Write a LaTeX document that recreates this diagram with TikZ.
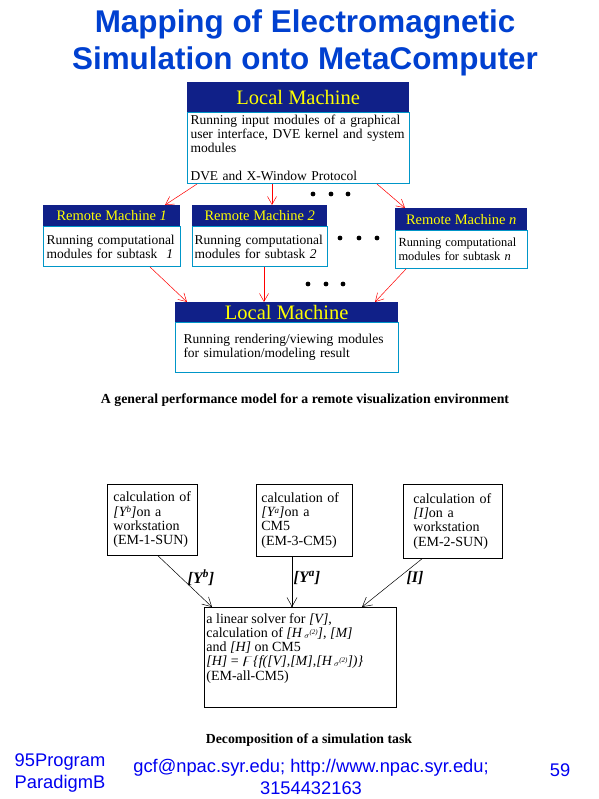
\documentclass[tikz,border=0pt]{standalone}
\usepackage{amssymb}
\usepackage{fontspec}
\setmainfont{Liberation Serif}
\setsansfont{Liberation Sans}
\usetikzlibrary{arrows.meta}
\definecolor{navy}{RGB}{16,32,136}
\definecolor{tealb}{RGB}{0,150,200}
\definecolor{titleblue}{RGB}{0,64,208}
\definecolor{footblue}{RGB}{0,0,240}
\definecolor{hdryellow}{RGB}{255,255,0}
\tikzset{
  hdr/.style={fill=navy, text=hdryellow, anchor=north west, inner sep=0pt},
  bigh/.style={hdr, font=\fontsize{20.5}{22}\selectfont},
  smallh/.style={hdr, font=\fontsize{14.5}{16}\selectfont},
  tbody/.style={draw=tealb, line width=1pt, anchor=north west, align=left,
    inner xsep=3pt, inner ysep=0pt, font=\fontsize{13.5}{14}\selectfont},
  bbox/.style={draw=black, line width=0.8pt, anchor=north west, align=left,
    inner xsep=6pt, inner ysep=0pt, font=\fontsize{14}{14.3}\selectfont},
  redarr/.style={draw=red, line width=0.5pt, -{Straight Barb[length=8pt,width=9pt]}},
  blkarr/.style={draw=black, line width=0.5pt, -{Straight Barb[length=9pt,width=10pt]}},
  lbl/.style={font=\fontsize{16}{16}\selectfont\bfseries\itshape},
  captext/.style={font=\fontsize{13.8}{14}\selectfont\bfseries},
  foot/.style={text=footblue, font=\sffamily\fontsize{18.3}{22}\selectfont, align=center},
  dotc/.style={fill=black}
}
\newcommand{\supsm}[1]{\raisebox{3.2pt}{\fontsize{9}{9}\selectfont #1}}
\newcommand{\hsig}{\,\raisebox{-1pt}{\fontsize{8}{8}\selectfont$\sigma$}\raisebox{3pt}{\fontsize{7}{7}\selectfont(2)}}
\begin{document}
\begin{tikzpicture}[x=1pt,y=-1pt]
\useasboundingbox (0,0) rectangle (598,799);
% title
\node[text=titleblue, font=\sffamily\bfseries\fontsize{31.4}{37}\selectfont, align=center] (title) at (305,43)
  {Mapping of Electromagnetic\\Simulation onto MetaComputer};

% top local machine
\node[tbody, minimum height=71pt, text width=216pt] (lm1b) at (187,112)
  {Running input modules of a graphical\\user interface, DVE kernel and system\\modules\\[14pt]DVE and X-Window Protocol};
\node[bigh, minimum width=222pt, minimum height=30pt] (lm1h) at (187,82) {Local Machine};

% remote machines
\node[tbody, minimum height=40pt, text width=131pt, inner xsep=3pt] (rm1b) at (43,226)
  {Running computational\\modules for subtask \ \textit{1}};
\node[smallh, minimum width=137pt, minimum height=21pt] (rm1h) at (43,205) {Remote Machine \textit{1}};

\node[tbody, minimum height=40pt, text width=131pt, inner xsep=2pt] (rm2b) at (192,226)
  {Running computational\\modules for subtask \textit{2}};
\node[smallh, minimum width=135pt, minimum height=21pt] (rm2h) at (192,205) {Remote Machine \textit{2}};

\node[tbody, minimum height=38pt, text width=126pt, font=\fontsize{12.4}{13.5}\selectfont] (rmnb) at (395,230)
  {Running computational\\modules for subtask \textit{n}};
\node[smallh, minimum width=132pt, minimum height=22pt] (rmnh) at (395,208) {Remote Machine \textit{n}};

% bottom local machine
\node[tbody, minimum height=50pt, text width=207pt, inner xsep=8pt] (lm2b) at (175,322)
  {Running rendering/viewing modules\\for simulation/modeling result};
\node[bigh, minimum width=223pt, minimum height=20pt] (lm2h) at (175,302) {Local Machine};

% dots
\foreach \x in {313,331,348} \fill[dotc] (\x,194) circle (2.4pt);
\foreach \x in {340,359,377} \fill[dotc] (\x,238) circle (2.4pt);
\foreach \x in {308,326,343} \fill[dotc] (\x,284) circle (2.4pt);

% red arrows
\draw[redarr] ([xshift=10pt]lm1b.south west) -- ([xshift=122pt]rm1h.north west);
\draw[redarr] ([xshift=85pt]lm1b.south west) -- ([xshift=80pt]rm2h.north west);
\draw[redarr] ([xshift=190pt]lm1b.south west) -- ([xshift=10pt]rmnh.north west);
\draw[redarr] ([xshift=107pt]rm1b.south west) -- ([xshift=12pt]lm2h.north west);
\draw[redarr] ([xshift=72pt]rm2b.south west) -- ([xshift=89pt]lm2h.north west);
\draw[redarr] ([xshift=11pt]rmnb.south west) -- ([xshift=200pt]lm2h.north west);

\node[captext] (cap1) at (305,400) {A general performance model for a remote visualization environment};

% decomposition
\node[bbox, minimum height=71pt, text width=78pt] (b1) at (107,484)
  {calculation of\\\textit{[Y\supsm{b}]}on a\\workstation\\(EM-1-SUN)};
\node[bbox, minimum height=72pt, text width=86pt, inner xsep=5pt] (b2) at (256,484)
  {calculation of\\\textit{[Y\supsm{a}]}on a\\CM5\\(EM-3-CM5)};
\node[bbox, minimum height=74pt, text width=79pt, inner xsep=10pt] (b3) at (403,484)
  {calculation of\\\textit{[I]}on a\\workstation\\(EM-2-SUN)};
\node[bbox, inner xsep=2pt, inner ysep=6pt] (bb) at (204,607)
  {\parbox[c][88pt][t]{188pt}{\fontsize{14}{14.2}\selectfont
   a linear solver for \textit{[V]},\\
   calculation of \textit{[H\hsig]}, \textit{[M]}\\
   and \textit{[H]} on CM5\\
   \smash{\textit{[H]} = $\digamma$\textit{\{f([V],[M],[H\hsig])\}}}\\
   (EM-all-CM5)}};

\draw[blkarr] ([xshift=51pt]b1.south west) -- ([xshift=8pt]bb.north west);
\draw[blkarr] ([xshift=36pt]b2.south west) -- ([xshift=88pt]bb.north west);
\draw[blkarr] ([xshift=19pt]b3.south west) -- ([xshift=158pt]bb.north west);
\fill ([xshift=88pt]bb.north west) circle (1.2pt);

\node[lbl] (l1) at (201,578) {[Y\textsuperscript{b}]};
\node[lbl] (l2) at (307,578) {[Y\textsuperscript{a}]};
\node[lbl] (l3) at (415,578) {[I]};

\node[captext] (cap2) at (309,740) {Decomposition of a simulation task};

% footer
\node[foot] (f1) at (60,773) {95Program\\ParadigmB};
\node[foot] (f2) at (311,777) {gcf@npac.syr.edu; http://www.npac.syr.edu;\\3154432163};
\node[foot] (f3) at (560,770) {59};
\end{tikzpicture}
\end{document}
